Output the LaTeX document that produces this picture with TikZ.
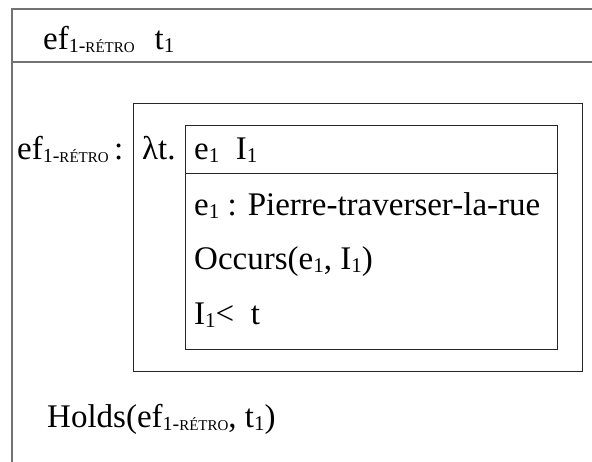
\documentclass[tikz,border=0pt]{standalone}
\usepackage{fontspec}
\setmainfont{Liberation Serif}
\newcommand\sbs[1]{\raisebox{-3pt}{\fontsize{21}{21}\selectfont #1}}
\newcommand\retro{\raisebox{-3pt}{\fontsize{20}{20}\selectfont 1-\fontsize{15}{15}\selectfont RÉTRO}}
\tikzset{
  outerline/.style={draw=black!55, line width=1.2pt},
  boxline/.style={draw=black!85, line width=1pt},
  txt/.style={anchor=base west, inner sep=0pt, font=\fontsize{33}{38}\selectfont},
}
\begin{document}
\begin{tikzpicture}[x=1pt,y=-1pt]
\useasboundingbox (0,0) rectangle (592,462);
% outer frame (open to right and bottom)
\coordinate (oBL) at (12,462);
\coordinate (oTL) at (12,9);
\coordinate (oTR) at (592,9);
\coordinate (sL) at (12,62);
\coordinate (sR) at (592,62);
\draw[outerline] (oBL) -- (oTL) -- (oTR);
\draw[outerline] (sL) -- (sR);
% middle box
\node[boxline, draw, minimum width=449pt, minimum height=268pt, anchor=north west, inner sep=0pt] (mid) at (133,103) {};
% inner box
\node[boxline, draw, minimum width=372pt, minimum height=224pt, anchor=north west, inner sep=0pt] (inn) at (185,125) {};
\coordinate (hL) at (185,174);
\coordinate (hR) at (557,174);
\draw[boxline] (hL) -- (hR);
% texts
\node[txt] (head) at (43,50) {ef\retro\hspace{20pt}t\sbs{1}};
\node[txt] (efl) at (17,160) {ef\retro\,:};
\node[txt] (lam) at (142,160) {λt.};
\node[txt] (r0) at (194,160) {e\sbs{1}\ \ I\sbs{1}};
\node[txt] (r1) at (194,216) {e\sbs{1} : Pierre-traverser-la-rue};
\node[txt] (r2) at (194,270) {Occurs(e\sbs{1}, I\sbs{1})};
\node[txt] (r3) at (194,325) {I\sbs{1}<\ \ t};
\node[txt] (holds) at (47,428) {Holds(ef\retro, t\sbs{1})};
\end{tikzpicture}
\end{document}
